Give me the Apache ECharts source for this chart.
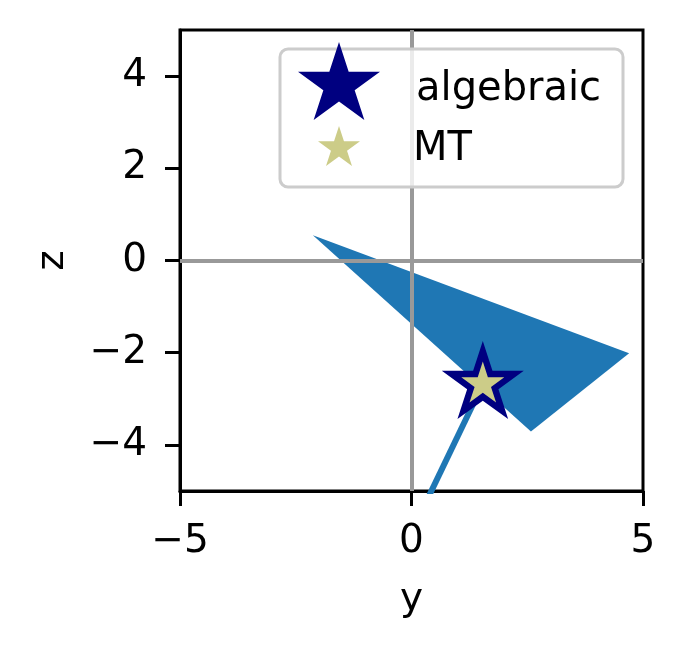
<!DOCTYPE html>
<html>
<head>
<meta charset="utf-8">
<script src="https://cdn.jsdelivr.net/npm/echarts@6/dist/echarts.min.js"></script>
<style>html,body{margin:0;padding:0;background:#fff}#c{width:687px;height:651px}</style>
</head>
<body>
<div id="c"></div>
<script>
// ---- data ----
const polyY = [-2.13, 4.70, 2.58];
const polyZ = [0.55, -2.01, -3.71];
const lineY = [1.54, 0.19];
const lineZ = [-2.68, -5.5];
const algY = [1.54], algZ = [-2.68];
const mtY = [1.54], mtZ = [-2.68];
const xTicks = [-5, 0, 5];
const zTicks = [-4, -2, 0, 2, 4];

// star symbol path (matplotlib-like 5-point star)
function starPath() {
  let s = '';
  for (let i = 0; i < 10; i++) {
    const a = (-90 + i * 36) * Math.PI / 180;
    const r = i % 2 === 0 ? 100 : 38.1966;
    s += (i === 0 ? 'M' : 'L') + (r * Math.cos(a)).toFixed(3) + ' ' + (r * Math.sin(a)).toFixed(3) + ' ';
  }
  return 'path://' + s + 'Z';
}
const STAR = starPath();
const FONT = 'DejaVu Sans';
const FS = 39;
const LFS = 40;
const fmt = v => String(v).replace('-', '\u2212');

const chart = echarts.init(document.getElementById('c'), null, {renderer: 'canvas'});
chart.setOption({
  animation: false,
  backgroundColor: '#fff',
  grid: {left: 180, right: 44, top: 30, bottom: 160, show: true, borderColor: '#000', borderWidth: 3, backgroundColor: 'transparent'},
  xAxis: {
    type: 'value', min: -5, max: 5,
    name: 'y', nameLocation: 'middle', nameGap: 89,
    nameTextStyle: {fontFamily: FONT, fontSize: FS, color: '#000'},
    axisLine: {show: true, onZero: false, lineStyle: {color: '#000', width: 3}},
    axisTick: {show: true, length: 15, lineStyle: {color: '#000', width: 3}, customValues: xTicks},
    axisLabel: {margin: 31, fontFamily: FONT, fontSize: FS, color: '#000', formatter: fmt, customValues: xTicks},
    splitLine: {show: false}
  },
  yAxis: {
    type: 'value', min: -5, max: 5,
    name: 'z', nameLocation: 'middle', nameGap: 108,
    nameTextStyle: {fontFamily: FONT, fontSize: FS, color: '#000'},
    axisLine: {show: true, onZero: false, lineStyle: {color: '#000', width: 3}},
    axisTick: {show: true, length: 15, lineStyle: {color: '#000', width: 3}, customValues: zTicks},
    axisLabel: {margin: 33, fontFamily: FONT, fontSize: FS, color: '#000', formatter: fmt, customValues: zTicks},
    splitLine: {show: false}
  },
  legend: [
    {data: ['algebraic'], left: 298, top: 42, padding: 0, itemWidth: 82, itemHeight: 78, selectedMode: false, z: 10,
     formatter: '{t|{name}}',
     textStyle: {fontFamily: FONT, fontSize: LFS, color: '#000',
       rich: {t: {fontFamily: FONT, fontSize: LFS, color: '#000', padding: [18, 0, 0, 31]}}}},
    {data: ['MT'], left: 318, top: 126, padding: 0, itemWidth: 42, itemHeight: 40, selectedMode: false, z: 10,
     formatter: '{t|{name}}',
     textStyle: {fontFamily: FONT, fontSize: LFS, color: '#000',
       rich: {t: {fontFamily: FONT, fontSize: LFS, color: '#000', padding: [8, 0, 0, 48]}}}}
  ],
  graphic: [{
    type: 'rect', z: 9, silent: true,
    shape: {x: 280, y: 49, width: 343, height: 138, r: 8},
    style: {fill: 'rgba(255,255,255,0.8)', stroke: '#cccccc', lineWidth: 3}
  }],
  series: [
    {
      name: 'zero', type: 'line', data: [], z: 1, silent: true,
      markLine: {
        silent: true, symbol: ['none', 'none'], label: {show: false},
        lineStyle: {color: '#999999', width: 4, type: 'solid'},
        emphasis: {disabled: true},
        data: [{xAxis: 0}, {yAxis: 0}]
      }
    },
    {
      name: 'poly', type: 'custom', z: 2, clip: true, silent: true,
      data: [0],
      renderItem: function (params, api) {
        const pts = polyY.map((y, i) => api.coord([y, polyZ[i]]));
        return {type: 'polygon', shape: {points: pts}, style: {fill: '#1f77b4', stroke: 'none'}};
      }
    },
    {
      name: 'vec', type: 'line', z: 3, clip: true, silent: true,
      data: lineY.map((y, i) => [y, lineZ[i]]),
      symbol: 'none', lineStyle: {color: '#1f77b4', width: 6}
    },
    {
      name: 'algebraic', type: 'scatter', z: 4, silent: true,
      data: algY.map((y, i) => [y, algZ[i]]),
      symbol: STAR, symbolSize: [82, 78], symbolOffset: [0, -4],
      itemStyle: {color: '#000080', opacity: 1}
    },
    {
      name: 'MT', type: 'scatter', z: 5, silent: true,
      data: mtY.map((y, i) => [y, mtZ[i]]),
      symbol: STAR, symbolSize: [43, 41], symbolOffset: [0, -2],
      itemStyle: {color: '#cccc88', opacity: 1}
    }
  ]
});
</script>
</body>
</html>
